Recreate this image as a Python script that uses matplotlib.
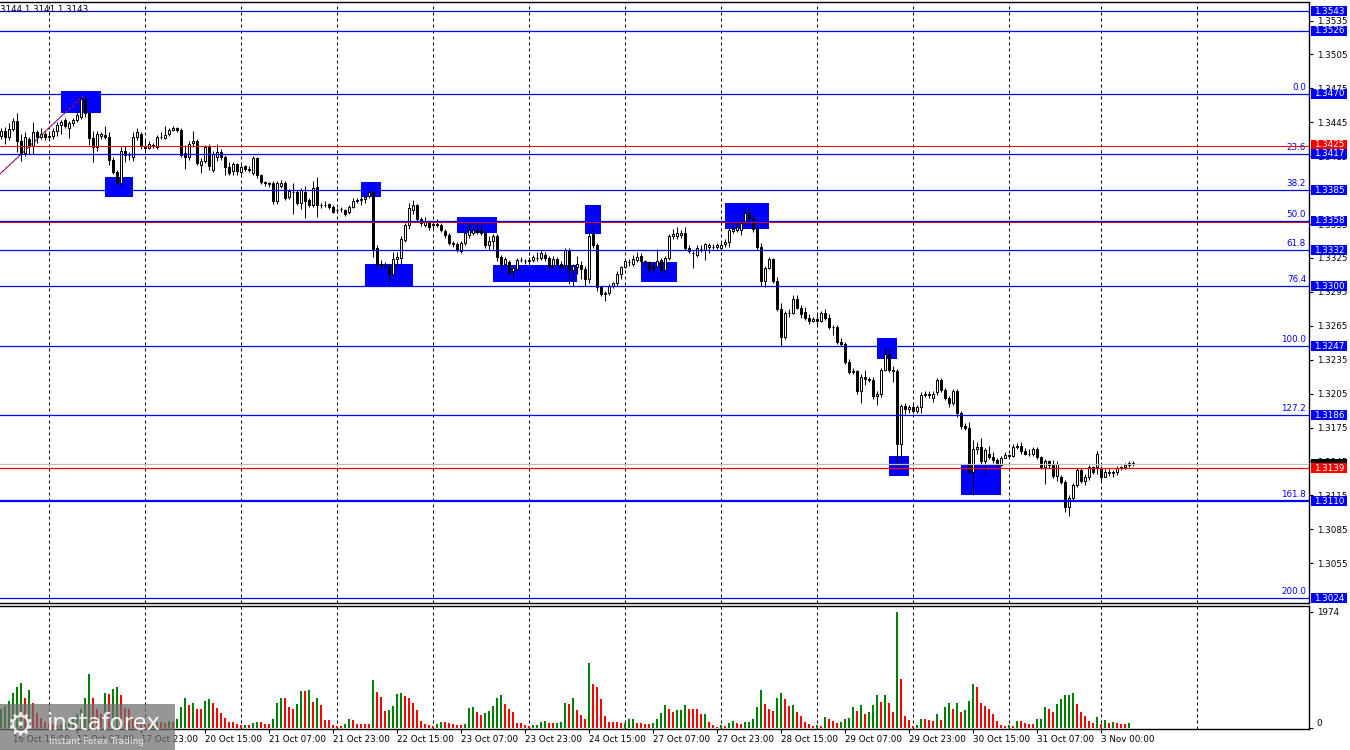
import numpy as np
import matplotlib
matplotlib.use("Agg")
from matplotlib import pyplot as plt
from matplotlib.patches import Rectangle
from matplotlib.transforms import blended_transform_factory

# GBPUSD H1 candles, prices as pips above 1.3000
BASE = 1.3
PIP = 0.0001

opens = [
    433, 437, 432, 439, 446, 428, 418, 430, 424, 436,
    432, 435, 432, 433, 437, 443, 447, 440, 444, 447,
    450, 466, 453, 431, 423, 433, 434, 432, 412, 401,
    391, 420, 416, 414, 432, 435, 424, 422, 425, 423,
    432, 431, 435, 438, 440, 438, 418, 414, 427, 428,
    407, 411, 423, 403, 414, 419, 414, 405, 402, 408,
    401, 406, 404, 400, 413, 398, 392, 391, 391, 375,
    389, 391, 379, 383, 383, 374, 383, 376, 372, 388,
    372, 372, 373, 370, 367, 368, 367, 366, 370, 375,
    376, 377, 380, 383, 334, 320, 318, 318, 311, 324,
    325, 341, 354, 367, 372, 359, 354, 356, 354, 355,
    354, 349, 345, 338, 337, 331, 338, 345, 347, 350,
    350, 347, 336, 340, 344, 326, 320, 321, 313, 315,
    323, 322, 322, 323, 325, 325, 328, 325, 319, 324,
    320, 319, 332, 314, 317, 319, 315, 306, 346, 336,
    299, 293, 294, 300, 303, 311, 317, 321, 320, 323,
    327, 322, 321, 318, 318, 323, 314, 325, 344, 344,
    345, 347, 334, 329, 328, 333, 332, 335, 335, 335,
    334, 337, 339, 349, 350, 350, 356, 365, 360, 351,
    335, 305, 316, 324, 305, 280, 255, 276, 276, 289,
    281, 277, 272, 269, 271, 269, 276, 272, 264, 264,
    251, 249, 233, 224, 225, 207, 220, 218, 217, 203,
    205, 226, 240, 226, 225, 160, 194, 191, 193, 190,
    193, 204, 205, 201, 206, 217, 208, 201, 197, 207,
    188, 176, 175, 136, 156, 158, 145, 152, 149, 146,
    142, 148, 151, 150, 158, 159, 154, 152, 152, 156,
    149, 140, 145, 142, 132, 131, 127, 105, 113, 124,
    137, 128, 131, 140, 140, 139, 131, 136, 135, 136,
    139, 140, 142, 144,
]
highs = [
    440, 441, 444, 449, 453, 435, 436, 432, 445, 438,
    440, 436, 437, 440, 445, 447, 449, 446, 449, 454,
    467, 469, 455, 437, 437, 436, 442, 436, 414, 403,
    423, 424, 419, 436, 440, 436, 430, 428, 427, 434,
    436, 442, 440, 442, 441, 440, 425, 428, 437, 430,
    413, 425, 426, 420, 426, 421, 416, 410, 410, 409,
    407, 407, 406, 415, 414, 399, 393, 392, 393, 393,
    394, 393, 386, 391, 385, 387, 389, 378, 393, 397,
    374, 375, 374, 372, 369, 370, 368, 372, 378, 378,
    380, 381, 386, 385, 336, 323, 321, 320, 330, 330,
    344, 356, 374, 376, 373, 361, 361, 358, 357, 359,
    356, 351, 347, 340, 339, 340, 349, 358, 354, 357,
    355, 349, 344, 346, 346, 328, 326, 323, 318, 325,
    326, 324, 326, 328, 330, 331, 330, 327, 327, 326,
    322, 334, 334, 320, 327, 322, 318, 350, 352, 338,
    300, 296, 302, 304, 313, 318, 323, 324, 328, 330,
    329, 323, 322, 321, 333, 325, 327, 346, 351, 352,
    350, 352, 336, 331, 336, 336, 338, 338, 337, 338,
    340, 342, 352, 358, 357, 358, 368, 369, 363, 353,
    338, 318, 326, 325, 308, 285, 278, 280, 292, 292,
    283, 282, 275, 273, 275, 278, 280, 275, 266, 266,
    254, 251, 236, 228, 226, 222, 226, 220, 220, 207,
    228, 245, 245, 229, 227, 196, 197, 195, 195, 195,
    206, 207, 207, 207, 219, 219, 210, 203, 209, 209,
    190, 179, 180, 164, 162, 166, 157, 159, 153, 148,
    150, 153, 152, 160, 161, 162, 157, 156, 158, 158,
    150, 147, 146, 146, 145, 133, 129, 115, 126, 139,
    139, 134, 142, 141, 154, 141, 138, 138, 137, 141,
    141, 144, 145, 145,
]
lows = [
    430, 426, 429, 437, 419, 411, 415, 417, 417, 427,
    430, 429, 429, 430, 433, 435, 440, 431, 442, 445,
    448, 450, 425, 410, 420, 430, 430, 407, 399, 390,
    389, 410, 412, 411, 429, 421, 419, 421, 422, 421,
    430, 430, 433, 437, 436, 414, 404, 412, 423, 407,
    400, 409, 403, 401, 411, 412, 398, 398, 398, 398,
    399, 402, 401, 398, 396, 390, 389, 388, 373, 373,
    387, 376, 377, 364, 372, 368, 360, 370, 370, 361,
    369, 370, 368, 365, 365, 366, 362, 364, 369, 374,
    372, 374, 378, 326, 316, 315, 316, 304, 308, 318,
    320, 339, 351, 364, 357, 353, 352, 350, 351, 352,
    348, 343, 336, 335, 330, 329, 336, 343, 345, 346,
    345, 334, 332, 333, 322, 315, 318, 310, 307, 313,
    321, 320, 320, 321, 322, 323, 322, 315, 317, 318,
    315, 316, 302, 300, 311, 306, 300, 303, 334, 296,
    291, 287, 292, 298, 300, 306, 316, 318, 318, 321,
    320, 318, 313, 313, 316, 312, 312, 323, 342, 342,
    343, 332, 329, 316, 326, 330, 323, 329, 333, 333,
    332, 335, 335, 347, 348, 345, 356, 358, 348, 332,
    300, 299, 315, 303, 278, 246, 253, 273, 275, 280,
    272, 270, 267, 268, 266, 268, 270, 262, 257, 249,
    247, 231, 222, 222, 205, 197, 213, 215, 200, 195,
    202, 225, 224, 215, 140, 141, 187, 188, 188, 188,
    188, 202, 201, 198, 204, 206, 199, 193, 195, 184,
    174, 173, 134, 115, 152, 143, 134, 147, 144, 140,
    141, 148, 148, 149, 156, 152, 151, 150, 150, 147,
    138, 125, 139, 130, 128, 125, 100, 97, 110, 122,
    126, 124, 129, 134, 134, 127, 131, 132, 131, 133,
    137, 138, 140, 141,
]
closes = [
    437, 432, 439, 446, 428, 418, 432, 424, 436, 432,
    435, 432, 433, 437, 443, 445, 442, 444, 447, 451,
    466, 453, 431, 423, 435, 435, 432, 412, 401, 391,
    420, 416, 416, 432, 436, 424, 422, 426, 424, 432,
    432, 434, 438, 440, 438, 416, 414, 426, 428, 409,
    411, 423, 406, 417, 419, 414, 405, 400, 408, 402,
    405, 404, 403, 413, 398, 392, 391, 390, 375, 391,
    391, 378, 384, 383, 374, 385, 375, 372, 387, 372,
    372, 372, 370, 366, 367, 368, 364, 370, 375, 376,
    377, 379, 383, 332, 320, 319, 318, 311, 324, 326,
    342, 354, 369, 372, 359, 356, 357, 352, 355, 354,
    350, 345, 338, 337, 332, 338, 347, 350, 350, 348,
    347, 336, 340, 344, 326, 320, 324, 312, 316, 323,
    323, 322, 323, 326, 325, 329, 325, 317, 324, 320,
    317, 332, 314, 318, 320, 315, 306, 344, 336, 299,
    293, 294, 300, 303, 311, 317, 322, 321, 324, 326,
    322, 321, 315, 315, 322, 314, 325, 344, 346, 347,
    347, 334, 331, 329, 334, 333, 337, 336, 335, 336,
    336, 339, 350, 351, 352, 356, 365, 360, 351, 335,
    305, 316, 324, 305, 280, 255, 276, 276, 289, 281,
    275, 272, 269, 271, 269, 276, 272, 264, 264, 251,
    249, 233, 224, 225, 207, 220, 218, 217, 203, 205,
    226, 240, 226, 225, 160, 194, 191, 193, 190, 193,
    204, 205, 204, 205, 217, 208, 201, 197, 207, 188,
    176, 175, 136, 156, 158, 145, 155, 149, 146, 142,
    148, 151, 150, 158, 159, 154, 152, 152, 156, 149,
    140, 145, 142, 132, 143, 127, 105, 113, 124, 137,
    128, 131, 140, 136, 152, 131, 136, 135, 136, 139,
    140, 142, 144, 143,
]
volumes = [
    315, 370, 460, 600, 690, 760, 515, 640, 420, 260,
    170, 100, 85, 75, 57, 75, 85, 115, 145, 230,
    315, 505, 915, 515, 315, 230, 590, 580, 660, 705,
    555, 345, 325, 170, 145, 100, 75, 75, 85, 100,
    100, 85, 115, 100, 145, 360, 505, 385, 420, 330,
    330, 460, 485, 430, 345, 260, 170, 105, 100, 75,
    45, 57, 57, 85, 105, 105, 75, 75, 145, 420,
    505, 505, 355, 330, 415, 630, 630, 640, 435, 505,
    385, 130, 130, 57, 40, 40, 75, 160, 130, 75,
    75, 75, 75, 815, 615, 525, 285, 305, 370, 585,
    600, 545, 510, 420, 305, 115, 75, 57, 40, 70,
    105, 100, 85, 75, 57, 45, 75, 345, 355, 275,
    220, 260, 285, 370, 505, 555, 400, 330, 275, 85,
    80, 45, 40, 45, 57, 110, 115, 85, 80, 85,
    100, 430, 400, 505, 300, 220, 145, 1105, 745, 690,
    485, 210, 105, 100, 95, 80, 85, 145, 160, 85,
    80, 75, 70, 85, 160, 260, 385, 330, 280, 300,
    305, 385, 330, 325, 315, 230, 245, 105, 57, 23,
    45, 28, 85, 125, 85, 75, 105, 110, 160, 355,
    640, 400, 315, 285, 505, 590, 485, 370, 385, 275,
    200, 105, 70, 28, 45, 28, 190, 160, 125, 85,
    95, 160, 165, 355, 285, 390, 230, 280, 385, 555,
    440, 560, 430, 280, 1974, 830, 210, 130, 40, 57,
    160, 155, 130, 125, 245, 130, 355, 430, 315, 420,
    275, 300, 460, 745, 705, 420, 370, 315, 245, 125,
    57, 40, 57, 40, 125, 120, 85, 75, 70, 145,
    150, 355, 315, 275, 400, 500, 555, 570, 590, 415,
    270, 200, 115, 85, 185, 75, 130, 85, 105, 85,
    75, 75, 80, 5,
]

time_labels = ["16 Oct 15:00", "17 Oct 07:00", "17 Oct 23:00", "20 Oct 15:00",
               "21 Oct 07:00", "21 Oct 23:00", "22 Oct 15:00", "23 Oct 07:00",
               "23 Oct 23:00", "24 Oct 15:00", "27 Oct 07:00", "27 Oct 23:00",
               "28 Oct 15:00", "29 Oct 07:00", "29 Oct 23:00", "30 Oct 15:00",
               "31 Oct 07:00", "3 Nov 00:00"]
time_label_bars = [3, 19, 35, 51, 67, 83, 99, 115, 131, 147, 163, 179,
                   195, 211, 227, 243, 259, 275]
midnight_bars = [12, 36, 60, 84, 108, 132, 156, 180, 204, 228, 252, 275, 299]

fib_names = ["0.0", "23.6", "38.2", "50.0", "61.8", "76.4", "100.0", "127.2", "161.8", "200.0"]
fib_levels = [1.3470, 1.3417, 1.3385, 1.3358, 1.3332, 1.3300, 1.3247, 1.3186, 1.3110, 1.3024]
other_levels = [1.3543, 1.3526]
red_levels = [1.3425, 1.3358]
bid_price = 1.3143
ask_price = 1.3139
header_text = "3144 1.3141 1.3143"

# drawn zones: first bar, last bar, low, high
zones = [
    (15, 25, 1.3453, 1.3473),
    (26, 33, 1.3379, 1.3397),
    (90, 95, 1.3379, 1.3392),
    (91, 103, 1.3300, 1.3320),
    (114, 124, 1.3347, 1.3361),
    (123, 144, 1.3304, 1.3319),
    (146, 150, 1.3346, 1.3372),
    (160, 169, 1.3304, 1.3321),
    (181, 192, 1.3351, 1.3374),
    (219, 224, 1.3236, 1.3254),
    (222, 227, 1.3132, 1.3150),
    (240, 250, 1.3115, 1.3143),
]
fib_anchor = [(-46, 1.3247), (21, 1.3470)]

BLUE = "#0000ff"
RED = "#ff0000"
FS = 6.3
plt.rcParams["font.family"] = ["DejaVu Sans"]

o = BASE + np.array(opens) * PIP
h = BASE + np.array(highs) * PIP
l = BASE + np.array(lows) * PIP
c = BASE + np.array(closes) * PIP
v = np.array(volumes)
x = np.arange(len(c))

W, H = 1350, 750
fig = plt.figure(figsize=(13.5, 7.5), dpi=100)
fig.patch.set_facecolor("white")
ax = fig.add_axes([0, 1 - 603 / H, 1309 / W, 601 / H])
axv = fig.add_axes([0, 1 - 729 / H, 1309 / W, 123 / H], sharex=ax)

ax.set_xlim(-0.25, 327)
ax.set_ylim(1.301979, 1.355137)
axv.set_ylim(-17, 2076)

for a in (ax, axv):
    a.spines["left"].set_visible(False)
    for s in ("top", "right", "bottom"):
        a.spines[s].set_color("black")
        a.spines[s].set_linewidth(1.0)
    for b in midnight_bars:
        a.axvline(b, color="black", lw=0.72, ls=(0, (3, 3)), zorder=0.5)

# zones (background)
for b0, b1, lo, hi in zones:
    ax.add_patch(Rectangle((b0, lo), b1 - b0, hi - lo, facecolor=BLUE,
                           edgecolor="none", zorder=1))

# fibo base line
(fx0, fy0), (fx1, fy1) = fib_anchor
ax.plot([fx0, fx1], [fy0, fy1], color=BLUE, lw=0.8, ls=(0, (2, 2)), zorder=2)
ax.plot([fx0, fx1], [fy0, fy1], color=RED, lw=0.8, ls=(2, (2, 2)), zorder=2)

# candles
ax.vlines(x, l, h, color="black", lw=0.72, zorder=3)
up = c > o
dn = c < o
eq = c == o
ax.bar(x[up], c[up] - o[up], bottom=o[up], width=0.5, facecolor="white",
       edgecolor="black", lw=0.72, zorder=3.5)
ax.bar(x[dn], c[dn] - o[dn], bottom=o[dn], width=0.5, facecolor="black",
       edgecolor="black", lw=0.72, zorder=3.5)
ax.hlines(c[eq], x[eq] - 0.3, x[eq] + 0.3, color="black", lw=0.9, zorder=3.5)

# horizontal levels
ytrans = blended_transform_factory(ax.transAxes, ax.transData)
for lv in other_levels:
    ax.axhline(lv, color=BLUE, lw=0.9, zorder=4)
for name, lv in zip(fib_names, fib_levels):
    ax.axhline(lv, color=BLUE, lw=1.6 if name == "161.8" else 0.9, zorder=4)
    ax.text(1306 / 1309, lv + 0.00018, name, color=BLUE, fontsize=FS,
            ha="right", va="bottom", transform=ytrans)
for lv in red_levels:
    ax.axhline(lv - 0.00009, color=RED, lw=0.72, zorder=3.9)
ax.axhline(bid_price, color="#c0c0c0", lw=0.9, zorder=4)
ax.axhline(ask_price, color=RED, lw=0.9, zorder=4)

# right price axis (the 1.3385 label sits fully under its level box)
ax.yaxis.tick_right()
ticks = np.round(np.arange(1.3055, 1.3536, 0.0030), 4)
ax.set_yticks(ticks)
ax.set_yticklabels(["" if t in fib_levels else f"{t:.4f}" for t in ticks])
ax.tick_params(axis="y", length=3, width=0.8, pad=2.5, labelsize=FS, colors="black")
ax.tick_params(axis="x", bottom=False, labelbottom=False)

box_h = 10 * 0.8845 * PIP
bx0 = 1310.7 / 1309
bw = 36.6 / 1309


def price_box(price, face, label=True):
    ax.add_patch(Rectangle((bx0, price - box_h / 2), bw, box_h, transform=ytrans,
                           facecolor=face, edgecolor="none", clip_on=False, zorder=6))
    if label:
        ax.text(bx0 + bw / 2, price, f"{price:.4f}", color="white", fontsize=FS,
                ha="center", va="center", transform=ytrans, clip_on=False, zorder=7)


price_box(red_levels[0], RED)
for lv in other_levels + fib_levels:
    price_box(lv, BLUE)
price_box(bid_price, "black", label=False)
price_box(ask_price, RED)

# volumes (green when rising, red when falling)
prev = np.concatenate([[0], v[:-1]])
vcol = np.where(v > prev, "#008000", RED)
axv.bar(x, v, width=0.72, color=vcol, zorder=2)
axv.yaxis.tick_right()
axv.set_yticks([0, 1974])
axv.set_yticklabels(["0", "1974"])
axv.tick_params(axis="y", length=3, width=0.8, pad=2.5, labelsize=FS, colors="black")
axv.get_yticklabels()[0].set_verticalalignment("bottom")
axv.set_xticks(time_label_bars)
axv.set_xticklabels(time_labels)
axv.tick_params(axis="x", length=3, width=0.8, pad=1.5, labelsize=FS, colors="black")
for lab in axv.get_xticklabels():
    lab.set_horizontalalignment("left")

# header and watermark
fig.text(0.5 / W, 1 - 10 / H, header_text, fontsize=FS, color="black", va="center")
fig.add_artist(Rectangle((0, 0), 175 / W, 46 / H, transform=fig.transFigure,
                         facecolor="#6e6e6e", alpha=0.72, edgecolor="none", zorder=5))
fig.text(20 / W, 1 - 727 / H, "\u2699", fontsize=22, color="white", alpha=0.85,
         ha="center", va="center", zorder=6)
fig.text(47 / W, 1 - 723 / H, "instaforex", fontsize=16.5, color="white", alpha=0.9,
         va="center", zorder=6)
fig.text(49 / W, 1 - 742 / H, "Instant Forex Trading", fontsize=6.5, color="#e8e8e8",
         va="center", zorder=6)

fig.savefig("out.png", dpi=100)
